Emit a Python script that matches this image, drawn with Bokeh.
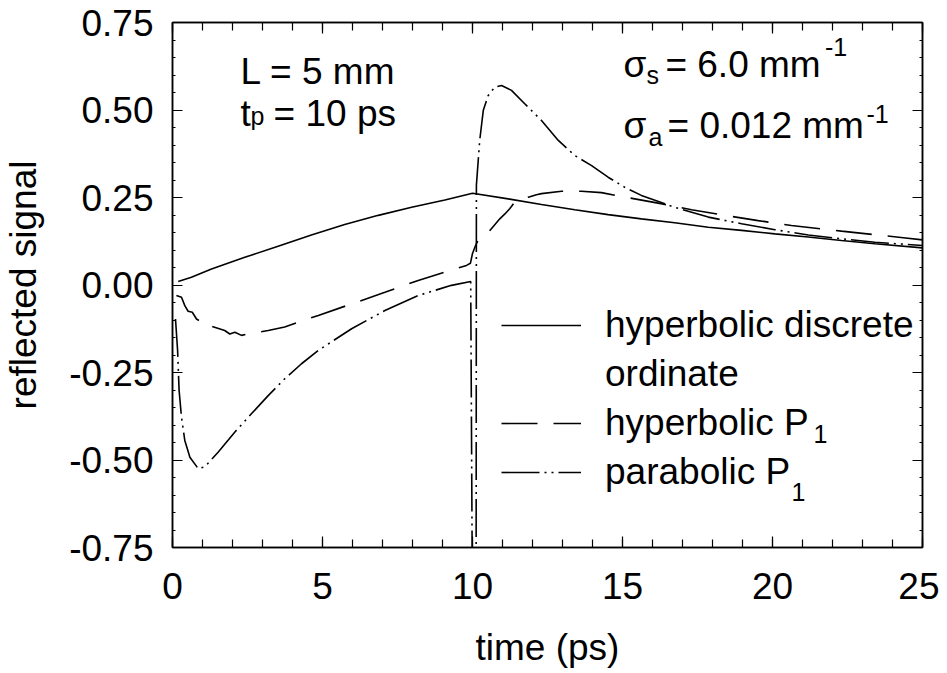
from bokeh.plotting import figure
from bokeh.models import (Range1d, LinearAxis, SingleIntervalTicker, NumeralTickFormatter,
                          CustomJSTickFormatter, Label, Legend, LegendItem)
from bokeh.embed import file_html
from bokeh.resources import INLINE

FONT = "Liberation Sans"

# ---------------- data ----------------
do_t = [0.19, 0.63, 1.3, 2.41, 3.52, 4.63, 5.74, 6.86, 7.97, 9.08, 10.0,
        11.19, 12.3, 13.41, 14.52, 15.63, 16.74, 17.86, 18.97, 20.08, 21.19, 22.3, 23.41, 25.0]
do_v = [0.010, 0.022, 0.046, 0.079, 0.111, 0.143, 0.173, 0.199, 0.222, 0.243, 0.262,
        0.246, 0.230, 0.215, 0.201, 0.189, 0.178, 0.165, 0.156, 0.146, 0.137, 0.127, 0.118, 0.106]

hp1_t = [0.13, 0.30, 0.41, 0.52, 0.66, 0.80, 0.97, 1.10, 1.24, 1.74, 1.91, 2.08, 2.30, 2.63,
         3.19, 3.74, 4.30, 4.86, 5.97, 7.08, 8.19, 9.30, 9.80, 9.93, 10.0, 10.08, 10.19, 10.41,
         10.58, 10.91, 11.08, 11.24, 11.41, 11.63, 11.86, 12.13, 12.30, 12.97, 13.63, 14.30,
         15.08, 16.19, 17.30, 18.41, 19.52, 20.63, 22.30, 24.36, 25.0]
hp1_v = [-0.030, -0.035, -0.059, -0.075, -0.078, -0.097, -0.106, -0.103, -0.116, -0.130, -0.140,
         -0.135, -0.144, -0.138, -0.130, -0.120, -0.103, -0.087, -0.054, -0.021, 0.013, 0.043,
         0.056, 0.062, 0.090, 0.108, 0.129, 0.141, 0.156, 0.189, 0.203, 0.218, 0.237, 0.243,
         0.251, 0.258, 0.261, 0.268, 0.268, 0.264, 0.251, 0.234, 0.215, 0.199, 0.184, 0.170,
         0.154, 0.135, 0.129]

pp1_t = [0.10, 0.17, 0.22, 0.30, 0.41, 0.58, 0.86, 1.08, 1.52, 2.08, 2.63, 3.19, 3.74, 4.30,
         4.86, 5.97, 7.08, 8.19, 9.30, 9.94, 10.0, 10.12, 10.13, 10.24, 10.36, 10.52, 10.74,
         10.97, 11.30, 11.74, 12.30, 12.86, 13.41, 13.97, 14.52, 15.08, 15.63, 16.74, 17.86,
         18.97, 20.08, 21.19, 22.30, 23.41, 25.0]
pp1_v = [-0.097, -0.187, -0.301, -0.378, -0.444, -0.492, -0.525, -0.519, -0.478, -0.420,
         -0.368, -0.316, -0.268, -0.225, -0.187, -0.125, -0.073, -0.030, -0.001, 0.010,
         -0.95, -0.95, 0.285, 0.413, 0.499, 0.541, 0.565, 0.570, 0.556, 0.518, 0.470, 0.413,
         0.370, 0.341, 0.308, 0.279, 0.256, 0.222, 0.194, 0.175, 0.158, 0.143, 0.132, 0.122,
         0.113]

legend_labels = ["hyperbolic discrete", "ordinate", "hyperbolic P", "parabolic P"]
x_label = "time (ps)"
y_label = "reflected signal"

# ---------------- figure ----------------
FS = "37px"
SUB = "25px"

p = figure(frame_width=750, frame_height=525,
           x_range=Range1d(0, 25), y_range=Range1d(-0.75, 0.75),
           output_backend="svg", toolbar_location=None,
           min_border_left=168, min_border_right=17, min_border_top=22, min_border_bottom=113,
           background_fill_color="white", border_fill_color="white")
p.xgrid.visible = False
p.ygrid.visible = False
p.outline_line_color = "black"
p.outline_line_width = 1.5

xt = SingleIntervalTicker(interval=5, num_minor_ticks=5)
yt = SingleIntervalTicker(interval=0.25, num_minor_ticks=5)

xa = p.xaxis[0]
xa.ticker = xt
xa.axis_label = x_label
ya = p.yaxis[0]
ya.ticker = yt
ya.formatter = NumeralTickFormatter(format="0.00")
ya.axis_label = y_label

for ax in (xa, ya):
    ax.axis_line_width = 1.5
    ax.major_tick_out = 0
    ax.minor_tick_out = 0
    ax.major_tick_line_width = 1.2
    ax.minor_tick_line_width = 1.2
    ax.major_label_text_font = FONT
    ax.major_label_text_font_size = FS
    ax.major_label_text_color = "black"
    ax.axis_label_text_font = FONT
    ax.axis_label_text_font_size = FS
    ax.axis_label_text_font_style = "normal"
    ax.axis_label_text_color = "black"

xa.major_tick_in = 11
xa.minor_tick_in = 8
xa.major_label_standoff = 25
xa.axis_label_standoff = 25
ya.major_tick_in = 10
ya.minor_tick_in = 3
ya.major_label_standoff = 19
ya.axis_label_standoff = 22

blank = CustomJSTickFormatter(code="return ''")
top = LinearAxis(ticker=xt, formatter=blank, major_tick_in=11, major_tick_out=0,
                 minor_tick_in=8, minor_tick_out=0, major_label_standoff=0,
                 major_label_text_font_size="1px", axis_line_width=1.5,
                 major_tick_line_width=1.2, minor_tick_line_width=1.2)
right = LinearAxis(ticker=yt, formatter=blank, major_tick_in=10, major_tick_out=0,
                   minor_tick_in=3, minor_tick_out=0, major_label_standoff=0,
                   major_label_text_font_size="1px", axis_line_width=1.5,
                   major_tick_line_width=1.2, minor_tick_line_width=1.2)
p.add_layout(top, "above")
p.add_layout(right, "right")

r_do = p.line(do_t, do_v, line_color="black", line_width=1.6)
r_hp = p.line(hp1_t, hp1_v, line_color="black", line_width=1.6, line_dash="36 16")
r_pp = p.line(pp1_t, pp1_v, line_color="black", line_width=1.6, line_dash="38 5 2 5 2 5")
r_blank = p.line(x=[], y=[], line_alpha=0)

legend = Legend(items=[LegendItem(label=legend_labels[0], renderers=[r_do]),
                       LegendItem(label=legend_labels[1], renderers=[r_blank]),
                       LegendItem(label=legend_labels[2], renderers=[r_hp]),
                       LegendItem(label=legend_labels[3], renderers=[r_pp])],
                location=(329, 54), label_text_font=FONT, label_text_font_size=FS,
                label_text_color="black", glyph_width=80, glyph_height=40,
                label_standoff=24, spacing=7, padding=0, margin=0,
                border_line_alpha=0, background_fill_alpha=0)
p.add_layout(legend, "center")


def lab(x, y, text, size=FS):
    p.add_layout(Label(x=x, y=y, text=text, text_font=FONT, text_font_size=size,
                       text_color="black", text_baseline="alphabetic", text_align="left"))


lab(2.27, 0.610, "L = 5 mm")
lab(2.27, 0.490, "t")
lab(2.60, 0.484, "p", SUB)
lab(3.37, 0.490, "= 10 ps")

lab(15.03, 0.630, "\u03c3")
lab(15.80, 0.599, "s", SUB)
lab(16.43, 0.630, "= 6.0 mm")
lab(21.75, 0.679, "-1", SUB)

lab(15.03, 0.456, "\u03c3")
lab(15.87, 0.424, "a", SUB)
lab(16.50, 0.456, "= 0.012 mm")
lab(23.13, 0.490, "-1", SUB)

lab(21.37, -0.427, "1", SUB)
lab(20.63, -0.590, "1", SUB)

open("out.html", "w").write(file_html(p, INLINE))
